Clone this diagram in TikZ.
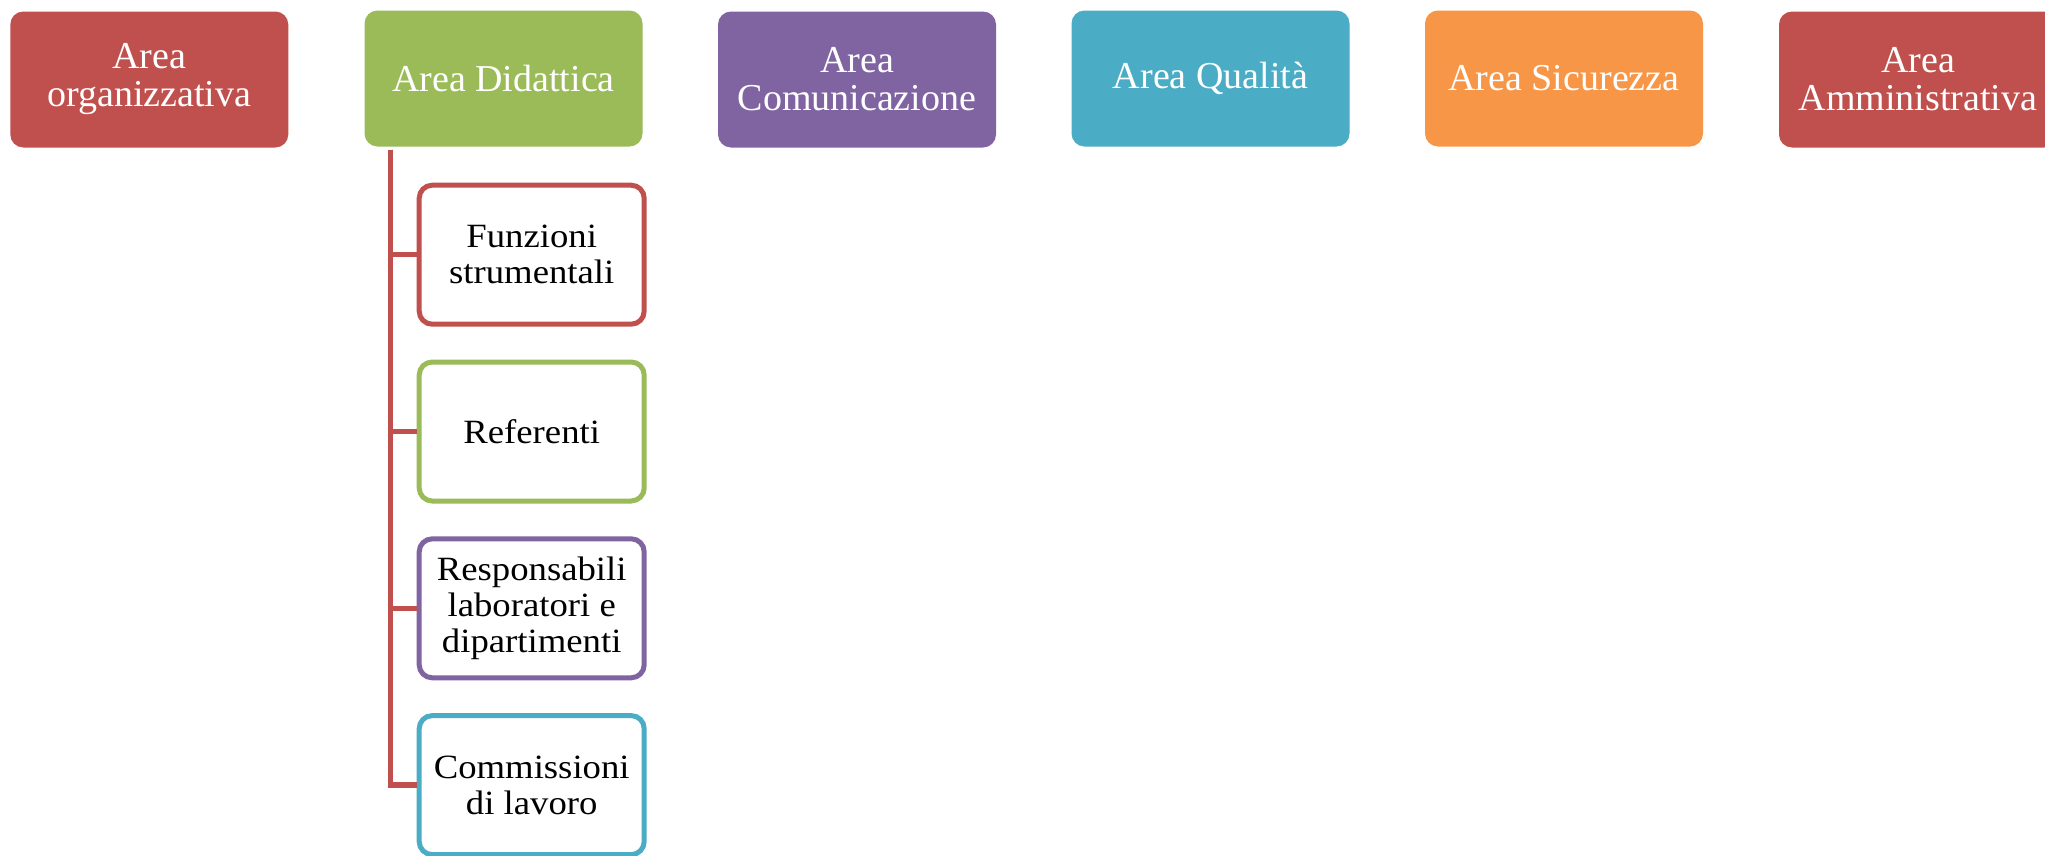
\documentclass[tikz,border=0pt]{standalone}
\usepackage{fontspec}
\setmainfont{Liberation Serif}
\newfontfamily\childfont[FakeStretch=1.08]{Liberation Serif}
\definecolor{ored}{HTML}{C0504D}
\definecolor{ogreen}{HTML}{9BBB59}
\definecolor{opurple}{HTML}{8064A2}
\definecolor{oaqua}{HTML}{4BACC6}
\definecolor{oorange}{HTML}{F79646}
\begin{document}
\begin{tikzpicture}[x=1pt,y=-1pt,
  topbox/.style={rectangle, rounded corners=13pt, minimum width=278pt, minimum height=136pt,
    inner sep=0pt, align=center, text=white, font=\fontsize{38}{38}\selectfont},
  childbox/.style={rectangle, rounded corners=13pt, draw, line width=5pt, fill=white,
    minimum width=225pt, minimum height=139pt, inner sep=0pt, align=center,
    text=black, font=\childfont\fontsize{34}{36}\selectfont},
  conn/.style={draw=ored, line width=5.5pt}]
\useasboundingbox (0,0) rectangle (2045,855);
\fill[white] (0,0) rectangle (2045,855);

\node[topbox, fill=ored]    (a1) at (149.3,79.5) {Area\\organizzativa};
\node[topbox, fill=ogreen]  (a2) at (503.5,78.5) {Area Didattica};
\node[topbox, fill=opurple] (a3) at (857,79.5)   {Area\\Comunicazione};
\node[topbox, fill=oaqua]   (a4) at (1210.5,78.5) {Area Qualità};
\node[topbox, fill=oorange] (a5) at (1564,78.5)  {Area Sicurezza};
\node[topbox, fill=ored]    (a6) at (1918,79.5)  {Area\\Amministrativa};

\node[childbox, draw=ored]    (c1) at (531.7,254.7) {Funzioni\\strumentali};
\node[childbox, draw=ogreen]  (c2) at (531.7,431.5) {Referenti};
\node[childbox, draw=opurple] (c3) at (531.7,608.3) {Responsabili\\laboratori e\\dipartimenti};
\node[childbox, draw=oaqua]   (c4) at (531.7,785.1) {Commissioni\\di lavoro};

\coordinate (trunk) at ([xshift=26pt,yshift=-3pt]a2.south west);
\foreach \c in {c1,c2,c3,c4}{
  \draw[conn] (trunk) |- (\c.west);
}
\end{tikzpicture}
\end{document}
